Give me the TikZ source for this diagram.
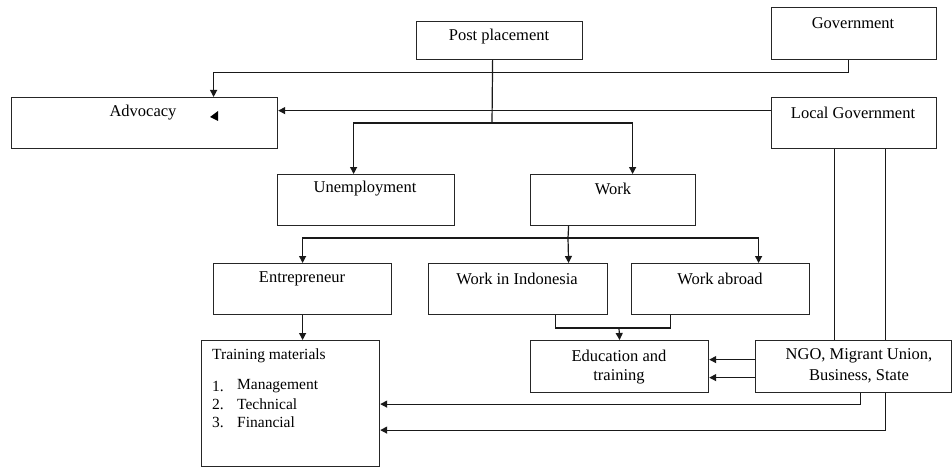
\documentclass[tikz,border=0pt]{standalone}
\usepackage{fontspec}
\setmainfont{Liberation Serif}
\usetikzlibrary{arrows.meta}
\begin{document}
\begin{tikzpicture}[x=1pt,y=-1pt,
  box/.style={draw=black!85,line width=1.2pt,inner sep=0pt,anchor=north west},
  txt/.style={font=\fontsize{16.5}{20}\selectfont,inner sep=0pt,align=center},
  ltxt/.style={font=\fontsize{15.5}{19}\selectfont,inner sep=0pt,anchor=west},
  conn/.style={line width=1.2pt,draw=black!90},
  arr/.style={conn,-{Triangle[length=7pt,width=7pt]}}]
\useasboundingbox (0,0) rectangle (952,468);
% boxes
\node[box,minimum width=166pt,minimum height=38pt] (post) at (416,21) {};
\node[box,minimum width=165pt,minimum height=52pt] (gov) at (771,7) {};
\node[box,minimum width=266pt,minimum height=51pt] (adv) at (11,97) {};
\node[box,minimum width=165pt,minimum height=51pt] (local) at (771,97) {};
\node[box,minimum width=177pt,minimum height=51pt] (unemp) at (277,174) {};
\node[box,minimum width=165pt,minimum height=51pt] (work) at (530,174) {};
\node[box,minimum width=178pt,minimum height=51pt] (entre) at (213,263) {};
\node[box,minimum width=179pt,minimum height=51pt] (windo) at (428,263) {};
\node[box,minimum width=178pt,minimum height=51pt] (wabroad) at (631,263) {};
\node[box,minimum width=178pt,minimum height=52pt] (edu) at (530,340) {};
\node[box,minimum width=178pt,minimum height=126pt] (train) at (201,340) {};
\node[box,minimum width=196pt,minimum height=52pt] (ngo) at (755,340) {};
% texts
\node[txt] (postt) at (499,37) {Post placement};
\node[txt] (govt) at (853,23) {Government};
\node[txt] (advt) at (143,113) {Advocacy};
\node[txt] (localt) at (853,113) {Local Government};
\node[txt] (unempt) at (365,189) {Unemployment};
\node[txt] (workt) at (613,189) {Work};
\node[txt] (entret) at (302,279) {Entrepreneur};
\node[txt] (windot) at (517,279) {Work in Indonesia};
\node[txt] (wabroadt) at (720,279) {Work abroad};
\node[txt] (edut1) at (619,356) {Education and};
\node[txt] (edut2) at (619,377) {training};
\node[txt] (ngot1) at (859,356) {NGO, Migrant Union,};
\node[txt] (ngot2) at (859,376) {Business, State};
\node[ltxt] (trt) at (212,356) {Training materials};
\node[ltxt] (n1) at (212,386) {1.};
\node[ltxt] (n2) at (212,404) {2.};
\node[ltxt] (n3) at (212,422) {3.};
\node[ltxt] (i1) at (237,386) {Management};
\node[ltxt] (i2) at (237,404) {Technical};
\node[ltxt] (i3) at (237,422) {Financial};
% stray arrowhead inside Advocacy
\fill (210,117) -- (218,111) -- (218,121) -- cycle;
% coordinates
\coordinate (s1) at (492,123);
\coordinate (s2) at (568,238);
\coordinate (s3) at (619,328);
% connectors
\draw[arr] ([xshift=-5.5pt]gov.south) -- ++(0,12) -| ([xshift=69pt]adv.north);
\draw[arr] ([yshift=12.5pt]local.west) -- ([yshift=12.5pt]adv.east);
\draw[conn] ([xshift=-7pt]post.south) -- (s1);
\draw[arr] (s1) -| ([xshift=-12.5pt]unemp.north);
\draw[arr] (s1) -| ([xshift=19.5pt]work.north);
\draw[conn] ([xshift=-44.5pt]work.south) -- (s2);
\draw[arr] (s2) -| (entre.north);
\draw[arr] (s2) -- ([xshift=50.5pt]windo.north);
\draw[arr] (s2) -| ([xshift=38pt]wabroad.north);
\draw[arr] (entre.south) -- (entre.south |- train.north);
\draw[conn] ([xshift=37.5pt]windo.south) |- (s3) -| ([xshift=-50pt]wabroad.south);
\draw[arr] (s3) -- (edu.north);
\draw[conn] ([xshift=-19.5pt]local.south) -- ([xshift=-19.5pt]local.south |- ngo.north);
\draw[conn] ([xshift=31.5pt]local.south) -- ([xshift=31.5pt]local.south |- ngo.north);
\draw[arr] ([yshift=7pt]ngo.west) -- ([yshift=7pt]ngo.west -| edu.east);
\draw[arr] ([yshift=-11pt]ngo.west) -- ([yshift=-11pt]ngo.west -| edu.east);
\draw[arr] ([xshift=6.5pt]ngo.south) |- ([yshift=-0.5pt]train.east);
\draw[arr] ([xshift=31.5pt]ngo.south) |- ([yshift=-26.5pt]train.east);
\end{tikzpicture}
\end{document}
